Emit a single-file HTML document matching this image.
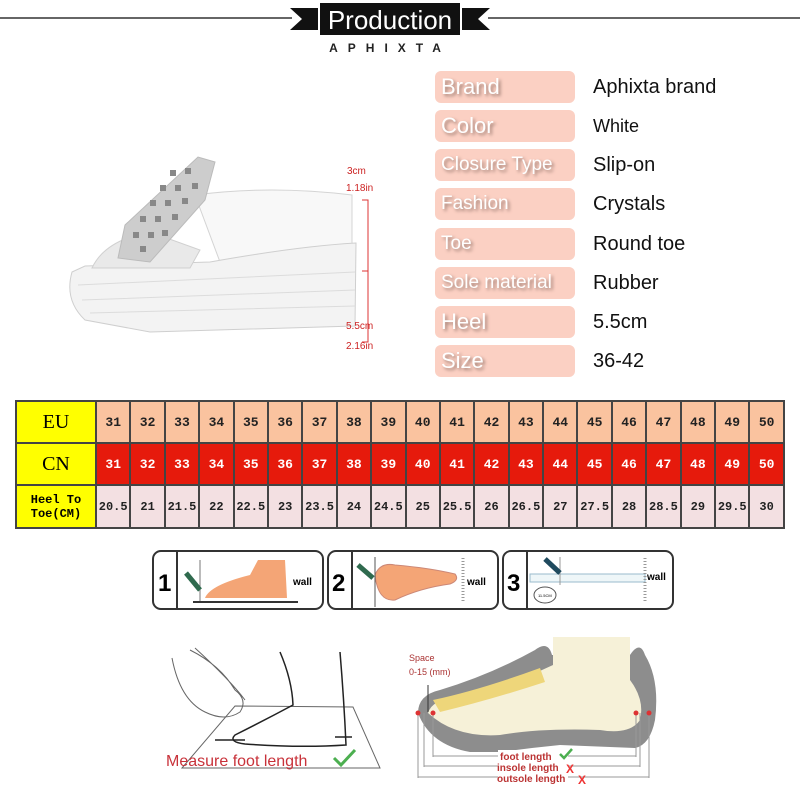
<!DOCTYPE html>
<html><head><meta charset="utf-8"><style>
body{margin:0;width:800px;height:800px;background:#fff;position:relative;overflow:hidden;font-family:"Liberation Sans",sans-serif}
.a{position:absolute}
.lab{position:absolute;left:435px;width:140px;height:32px;background:#fbd0c3;border-radius:6px;color:#fff;font-size:22px;line-height:32px;padding-left:6px;box-sizing:border-box;text-shadow:2px 2px 3px #9a7a70;white-space:nowrap;overflow:hidden}
.val{position:absolute;left:593px;font-size:20px;line-height:32px;color:#111}
table{position:absolute;left:15px;top:400px;border-collapse:collapse;font-family:"Liberation Mono",monospace;font-weight:bold;table-layout:fixed}
td{border:2px solid #444;text-align:center;padding:0;font-size:13px}
td.h{background:#ffff00;font-family:"Liberation Serif",serif;font-size:20px;font-weight:normal;color:#000}
tr.r1 td{background:#fac39f;height:40px;color:#222}
tr.r2 td{background:#e61a0c;height:40px;color:#fff}
tr.r3 td{background:#f3e0e2;height:41px;color:#222;font-size:12px}
tr td.h{background:#ffff00;color:#000}
</style></head><body>
<svg class="a" style="left:0;top:0" width="800" height="60">
<line x1="0" y1="18" x2="292" y2="18" stroke="#666" stroke-width="2"/>
<line x1="488" y1="18" x2="800" y2="18" stroke="#666" stroke-width="2"/>
<polygon points="290,8 318,8 318,30 290,30 302,19" fill="#111"/>
<polygon points="490,8 462,8 462,30 490,30 478,19" fill="#111"/>
<rect x="320" y="3" width="140" height="32" fill="#111"/>
<text x="390" y="29" text-anchor="middle" font-family="Liberation Sans" font-size="26" fill="#fff">Production</text>
<text x="390" y="52" text-anchor="middle" font-family="Liberation Sans" font-size="12" font-weight="bold" letter-spacing="10" fill="#222">APHIXTA</text>
</svg>

<div class="lab" style="top:71px">Brand</div><div class="val" style="top:71px">Aphixta brand</div>
<div class="lab" style="top:110px">Color</div><div class="val" style="top:110px;font-size:18px">White</div>
<div class="lab" style="top:149px;font-size:19px">Closure Type</div><div class="val" style="top:149px">Slip-on</div>
<div class="lab" style="top:188px;font-size:19px">Fashion</div><div class="val" style="top:188px">Crystals</div>
<div class="lab" style="top:228px;font-size:19px">Toe</div><div class="val" style="top:228px">Round toe</div>
<div class="lab" style="top:267px;font-size:19px">Sole material</div><div class="val" style="top:267px">Rubber</div>
<div class="lab" style="top:306px">Heel</div><div class="val" style="top:306px">5.5cm</div>
<div class="lab" style="top:345px">Size</div><div class="val" style="top:345px">36-42</div>

<svg class="a" style="left:0;top:0" width="420" height="380" font-family="Liberation Sans">
<path d="M195,195 Q270,185 352,195 L352,250 Q290,252 220,262 Z" fill="#f8f8f8" stroke="#d4d4d4"/>
<path d="M72,272 Q64,300 85,320 L150,332 L355,326 L356,243 Q300,246 210,262 L85,266 Z" fill="#f3f3f3" stroke="#cfcfcf"/>
<path d="M78,285 L355,272 M82,300 L355,290 M90,313 L355,306" stroke="#dcdcdc"/>
<path d="M92,268 Q105,240 150,232 L200,250 L190,268Z" fill="#e9e9e9" stroke="#d0d0d0"/>
<polygon points="125,225 198,157 215,162 205,200 150,262 118,258" fill="#cdcdcd" stroke="#bbb"/>
<g fill="#888">
<rect x="170" y="170" width="6" height="6"/><rect x="185" y="168" width="6" height="6"/><rect x="160" y="185" width="6" height="6"/><rect x="175" y="185" width="6" height="6"/><rect x="192" y="183" width="6" height="6"/>
<rect x="150" y="200" width="6" height="6"/><rect x="165" y="200" width="6" height="6"/><rect x="182" y="198" width="6" height="6"/>
<rect x="140" y="216" width="6" height="6"/><rect x="155" y="216" width="6" height="6"/><rect x="172" y="214" width="6" height="6"/>
<rect x="133" y="232" width="6" height="6"/><rect x="148" y="232" width="6" height="6"/><rect x="162" y="230" width="6" height="6"/>
<rect x="140" y="246" width="6" height="6"/>
</g>
<path d="M362,200 L368,200 L368,342 L362,342 M368,271 L362,271" stroke="#d33" fill="none"/>
<text x="347" y="174" font-size="10" fill="#c22">3cm</text>
<text x="346" y="191" font-size="10" fill="#c22">1.18in</text>
<text x="346" y="329" font-size="10" fill="#c22">5.5cm</text>
<text x="346" y="349" font-size="10" fill="#c22">2.16in</text>
</svg>

<table>
<colgroup><col style="width:80px"><col span="20" style="width:34.4px"></colgroup>
<tr class="r1"><td class="h">EU</td><td>31</td><td>32</td><td>33</td><td>34</td><td>35</td><td>36</td><td>37</td><td>38</td><td>39</td><td>40</td><td>41</td><td>42</td><td>43</td><td>44</td><td>45</td><td>46</td><td>47</td><td>48</td><td>49</td><td>50</td></tr>
<tr class="r2"><td class="h">CN</td><td>31</td><td>32</td><td>33</td><td>34</td><td>35</td><td>36</td><td>37</td><td>38</td><td>39</td><td>40</td><td>41</td><td>42</td><td>43</td><td>44</td><td>45</td><td>46</td><td>47</td><td>48</td><td>49</td><td>50</td></tr>
<tr class="r3"><td class="h" style="font-family:'Liberation Mono',monospace;font-weight:bold;font-size:12px;line-height:14px">Heel To<br>Toe(CM)</td><td>20.5</td><td>21</td><td>21.5</td><td>22</td><td>22.5</td><td>23</td><td>23.5</td><td>24</td><td>24.5</td><td>25</td><td>25.5</td><td>26</td><td>26.5</td><td>27</td><td>27.5</td><td>28</td><td>28.5</td><td>29</td><td>29.5</td><td>30</td></tr>
</table>

<svg class="a" style="left:0;top:540px" width="800" height="260" font-family="Liberation Sans">
<g fill="none" stroke="#333" stroke-width="2">
<rect x="153" y="11" width="170" height="58" rx="8"/><line x1="177" y1="11" x2="177" y2="69"/>
<rect x="328" y="11" width="170" height="58" rx="8"/><line x1="352" y1="11" x2="352" y2="69"/>
<rect x="503" y="11" width="170" height="58" rx="8"/><line x1="527" y1="11" x2="527" y2="69"/>
</g>
<text x="158" y="51" font-size="24" font-weight="bold">1</text>
<text x="332" y="51" font-size="24" font-weight="bold">2</text>
<text x="507" y="51" font-size="24" font-weight="bold">3</text>
<path d="M205,58 Q210,45 250,35 L258,20 L285,20 L287,58Z" fill="#f4a576"/>
<line x1="200" y1="20" x2="200" y2="62" stroke="#777"/><line x1="193" y1="62" x2="298" y2="62" stroke="#333" stroke-width="2"/>
<line x1="186" y1="33" x2="200" y2="50" stroke="#2f6a4e" stroke-width="5"/>
<text x="293" y="45" font-size="10" font-weight="bold">wall</text>
<path d="M375,35 Q380,22 395,25 Q430,28 455,34 Q460,40 450,44 Q420,48 395,60 Q378,62 375,35Z" fill="#f4a576" stroke="#c87"/>
<line x1="375" y1="17" x2="375" y2="67" stroke="#555"/>
<line x1="358" y1="25" x2="373" y2="38" stroke="#2f6a4e" stroke-width="5"/>
<line x1="463" y1="18" x2="463" y2="62" stroke="#999" stroke-width="3" stroke-dasharray="1 2"/>
<text x="467" y="45" font-size="10" font-weight="bold">wall</text>
<rect x="530" y="34" width="115" height="8" fill="#eef6f8" stroke="#9bc"/>
<line x1="560" y1="17" x2="560" y2="45" stroke="#999"/>
<line x1="545" y1="19" x2="560" y2="33" stroke="#1f4a5e" stroke-width="5"/>
<line x1="645" y1="18" x2="645" y2="62" stroke="#999" stroke-width="3" stroke-dasharray="1 2"/>
<ellipse cx="545" cy="55" rx="11" ry="8" fill="none" stroke="#555"/>
<text x="538" y="57" font-size="4">11.5CM</text>
<text x="647" y="40" font-size="10" font-weight="bold">wall</text>
</svg>

<svg class="a" style="left:0;top:0" width="800" height="800" font-family="Liberation Sans">
<g fill="none" stroke="#666" stroke-width="1">
<polygon points="182,768 235,706 353,707 380,768"/>
<path d="M172,658 Q180,700 205,712 Q225,722 240,712 Q248,700 235,690 Q220,665 190,650 M195,648 Q230,680 245,700"/>
</g>
<g fill="none" stroke="#222" stroke-width="1.5">
<path d="M280,652 Q292,680 293,705 Q265,720 235,735 Q228,742 245,744 Q300,748 346,745 Q344,700 340,652"/>
<line x1="215" y1="740" x2="245" y2="740"/><line x1="335" y1="737" x2="352" y2="737"/>
</g>
<text x="166" y="766" font-size="16" fill="#c8323a">Measure foot length</text>
<path d="M334,758 L341,765 L355,750" stroke="#4caf50" stroke-width="3" fill="none"/>

<path d="M418,713 Q418,695 440,690 Q490,675 535,650 Q548,640 552,655 L630,655 Q640,640 645,655 Q660,680 655,720 Q650,745 635,748 L560,745 Q530,748 500,752 L470,752 Q430,745 418,713Z" fill="#8d8d8d"/>
<path d="M428,713 Q432,700 455,697 Q500,690 553,665 L553,637 L630,637 L630,680 Q645,700 640,720 Q630,735 600,730 Q540,728 500,735 Q455,738 428,713Z" fill="#f6f1d8"/>
<path d="M433,700 Q480,690 540,668 L545,682 Q490,700 440,712Z" fill="#eed67a"/>
<text x="409" y="661" font-size="9" fill="#a33">Space</text>
<text x="409" y="675" font-size="9" fill="#a33">0-15 (mm)</text>
<line x1="428" y1="685" x2="428" y2="712" stroke="#333"/>
<g stroke="#999" stroke-width="1">
<line x1="433" y1="713" x2="433" y2="757"/><line x1="424" y1="713" x2="424" y2="767"/><line x1="418" y1="713" x2="418" y2="778"/>
<line x1="636" y1="713" x2="636" y2="757"/><line x1="640" y1="713" x2="640" y2="767"/><line x1="649" y1="713" x2="649" y2="778"/>
<line x1="433" y1="756" x2="636" y2="756"/><line x1="424" y1="766" x2="640" y2="766"/><line x1="418" y1="777" x2="649" y2="777"/>
</g>
<g fill="#d33"><circle cx="418" cy="713" r="2.5"/><circle cx="433" cy="713" r="2.5"/><circle cx="636" cy="713" r="2.5"/><circle cx="649" cy="713" r="2.5"/></g>
<rect x="498" y="750" width="70" height="36" fill="#fff"/>
<text x="500" y="760" font-size="10" font-weight="bold" fill="#b33">foot length</text>
<text x="497" y="771" font-size="10" font-weight="bold" fill="#b33">insole length</text>
<text x="497" y="782" font-size="10" font-weight="bold" fill="#b33">outsole length</text>
<path d="M560,754 L564,758 L572,749" stroke="#4caf50" stroke-width="2.5" fill="none"/>
<text x="566" y="773" font-size="12" font-weight="bold" fill="#e33">X</text>
<text x="578" y="784" font-size="12" font-weight="bold" fill="#e33">X</text>
</svg>
</body></html>
